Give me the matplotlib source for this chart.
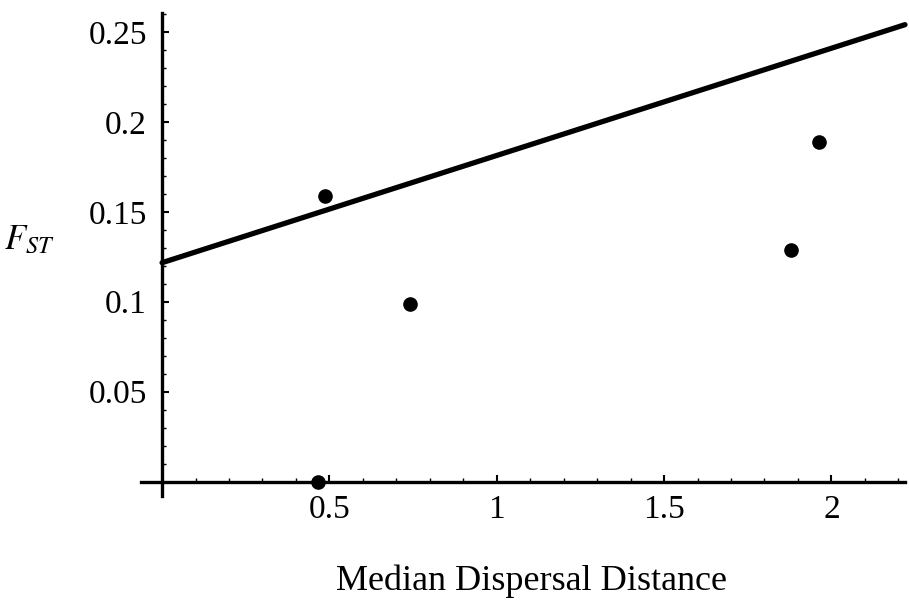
import numpy as np
import matplotlib.pyplot as plt
from matplotlib.ticker import MultipleLocator, FixedLocator

# data
dispersal = [0.466, 0.487, 0.740, 1.878, 1.964]
fst = [0.0, 0.159, 0.099, 0.129, 0.189]
fit_intercept = 0.1217
fit_slope = 0.0596

xticks = [0.5, 1, 1.5, 2]
xtick_labels = ["0.5", "1", "1.5", "2"]
yticks = [0.05, 0.1, 0.15, 0.2, 0.25]
ytick_labels = ["0.05", "0.1", "0.15", "0.2", "0.25"]

plt.rcParams['font.family'] = ['Liberation Serif', 'DejaVu Serif']
plt.rcParams['mathtext.fontset'] = 'stix'

W, H = 909, 601
fig = plt.figure(figsize=(W / 100, H / 100), dpi=100)
ax = fig.add_axes([141 / W, (H - 496) / H, (905 - 141) / W, (496 - 13) / H])

xmin, xmax = -0.063, 2.22
ymin, ymax = -0.008, 0.2605

xs = np.array([0, xmax])
ax.plot(xs, fit_intercept + fit_slope * xs, color='black', lw=3.8,
        solid_capstyle='round', clip_on=False)
ax.plot(dispersal, fst, 'o', color='black', ms=9.5, clip_on=False, zorder=5)

ax.set_xlim(xmin, xmax)
ax.set_ylim(ymin, ymax)

for s in ['top', 'right']:
    ax.spines[s].set_visible(False)
ax.spines['left'].set_position(('data', 0))
ax.spines['bottom'].set_position(('data', 0))
ax.spines['left'].set_linewidth(2.4)
ax.spines['bottom'].set_linewidth(2.4)

ax.xaxis.set_major_locator(FixedLocator(xticks))
ax.set_xticklabels(xtick_labels)
ax.xaxis.set_minor_locator(MultipleLocator(0.1))
ax.yaxis.set_major_locator(FixedLocator(yticks))
ax.set_yticklabels(ytick_labels)
ax.yaxis.set_minor_locator(MultipleLocator(0.01))

ax.tick_params(which='major', direction='in', length=5, width=1.5,
               labelsize=24, pad=9)
ax.tick_params(which='minor', direction='in', length=3, width=1.0)
ax.tick_params(axis='y', which='major', pad=11)

fig.text(532 / W, 1 - 581 / H, "Median Dispersal Distance", fontsize=26,
         ha='center', va='center')
fig.text(29 / W, 1 - 241 / H, r"$F_{ST}$", fontsize=25, ha='center', va='center')

fig.savefig('out.png', dpi=100, facecolor='white')
